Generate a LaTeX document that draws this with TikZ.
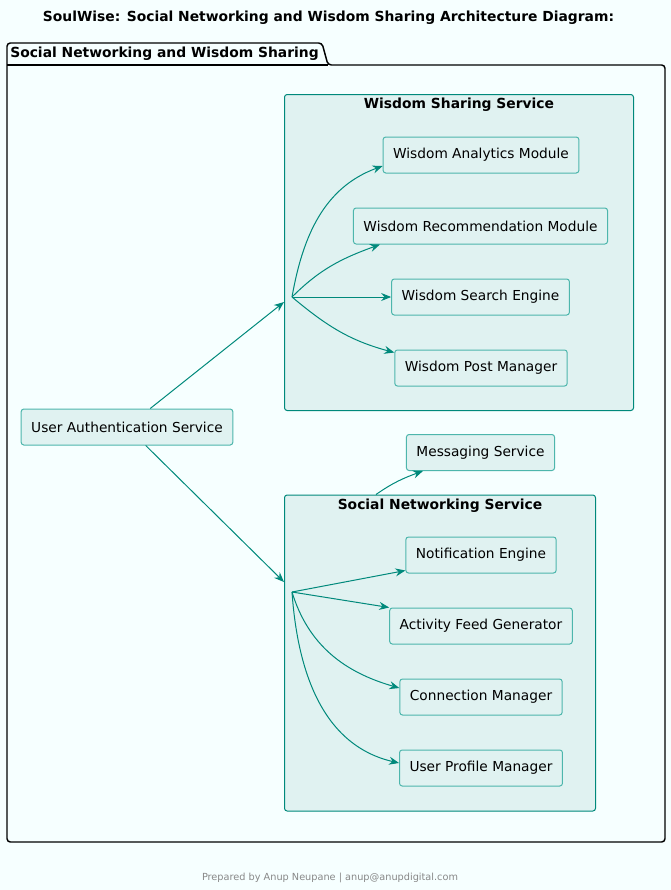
\documentclass[tikz,border=0pt]{standalone}
\usepackage{fontspec}
\setmainfont{DejaVu Sans}
\usetikzlibrary{arrows.meta, calc}
\definecolor{pagebg}{HTML}{F6FFFF}
\definecolor{grpfill}{HTML}{E0F2F1}
\definecolor{grpline}{HTML}{00897B}
\definecolor{svcfill}{HTML}{E0F2F1}
\definecolor{svcline}{HTML}{4DB6AC}
\definecolor{flowcol}{HTML}{00897B}
\definecolor{footgray}{HTML}{888888}

\begin{document}
\begin{tikzpicture}[x=0.75pt, y=0.75pt,
    svc/.style={draw=svcline, fill=svcfill, line width=0.75pt, rounded corners=2pt,
        minimum height=27pt, inner xsep=7.5pt, font=\fontsize{10.3pt}{12pt}\selectfont},
    cluster/.style={draw=grpline, fill=grpfill, line width=0.75pt, rounded corners=2pt,
        anchor=north west, minimum height=237pt},
    grptitle/.style={inner sep=0pt, font=\fontsize{10.4pt}{12pt}\selectfont\bfseries},
    pkgline/.style={draw=black, line width=1.1pt, rounded corners=2.5pt},
    flow/.style={draw=flowcol, line width=0.75pt,
        -{Stealth[length=7.5pt, width=6pt, inset=2.5pt]}},
    ]

\fill[pagebg] (0,0) rectangle (671,-890);

\node[grptitle] (title) at (328.5,-18)
    {SoulWise: Social Networking and Wisdom Sharing Architecture Diagram:};

\draw[pkgline, fill=pagebg] (7,-65) -- (7,-43) -- (322,-43) -- (328,-65) -- (665,-65)
    -- (665,-842) -- (7,-842) -- cycle;
\draw[black, line width=1.1pt] (7,-65) -- (328,-65);
\node[grptitle, anchor=west] (pkglabel) at (10,-54) {Social Networking and Wisdom Sharing};

\node[cluster, minimum width=261.75pt] (wisdom) at (284,-94) {};
\node[grptitle] (wtitle) at ($(wisdom.north)+(0,-11)$) {Wisdom Sharing Service};
\node[svc] (wam) at (481,-155) {Wisdom Analytics Module};
\node[svc] (wrm) at (480.5,-226) {Wisdom Recommendation Module};
\node[svc] (wse) at (480.5,-297) {Wisdom Search Engine};
\node[svc] (wpm) at (481,-368) {Wisdom Post Manager};

\node[svc] (uas) at (127,-427) {User Authentication Service};
\node[svc] (msg) at (480.5,-452.5) {Messaging Service};

\node[cluster, minimum width=233.25pt] (social) at (284,-494.5) {};
\node[grptitle] (stitle) at ($(social.north)+(0,-11)$) {Social Networking Service};
\node[svc] (notif) at (481,-555) {Notification Engine};
\node[svc] (afg) at (481,-626) {Activity Feed Generator};
\node[svc] (conn) at (481,-697) {Connection Manager};
\node[svc] (upm) at (481,-768) {User Profile Manager};

\coordinate (wjoin) at (292,-297);
\coordinate (wtip) at (284,-302);
\coordinate (sjoin) at (292,-592);
\coordinate (stip) at (284,-582);

\draw[flow] (uas) -- (wtip);
\draw[flow] (uas) -- (stip);

\draw[flow] (wjoin) to[out=80, in=200] ($(wam.west)+(0,-11)$);
\draw[flow] (wjoin) to[out=45, in=200] ($(wrm.south west)+(27,0)$);
\draw[flow] (wjoin) -- (wse.west);
\draw[flow] (wjoin) to[out=-40, in=165] ($(wpm.north west)+(0,-3)$);

\draw[flow] ($(social.north west)+(92,0)$) to[out=35, in=200] ($(msg.south west)+(17,0)$);

\draw[flow] (sjoin) -- ($(notif.south west)+(0,3)$);
\draw[flow] (sjoin) -- (afg.north west);
\draw[flow] (sjoin) to[out=-73, in=164] ($(conn.west)+(0,9)$);
\draw[flow] (sjoin) to[out=-86, in=167] ($(upm.west)+(0,5)$);

\node[text=footgray, font=\fontsize{7.3pt}{9pt}\selectfont] (footer) at (330,-878)
    {Prepared by Anup Neupane | anup@anupdigital.com};
\end{tikzpicture}
\end{document}
